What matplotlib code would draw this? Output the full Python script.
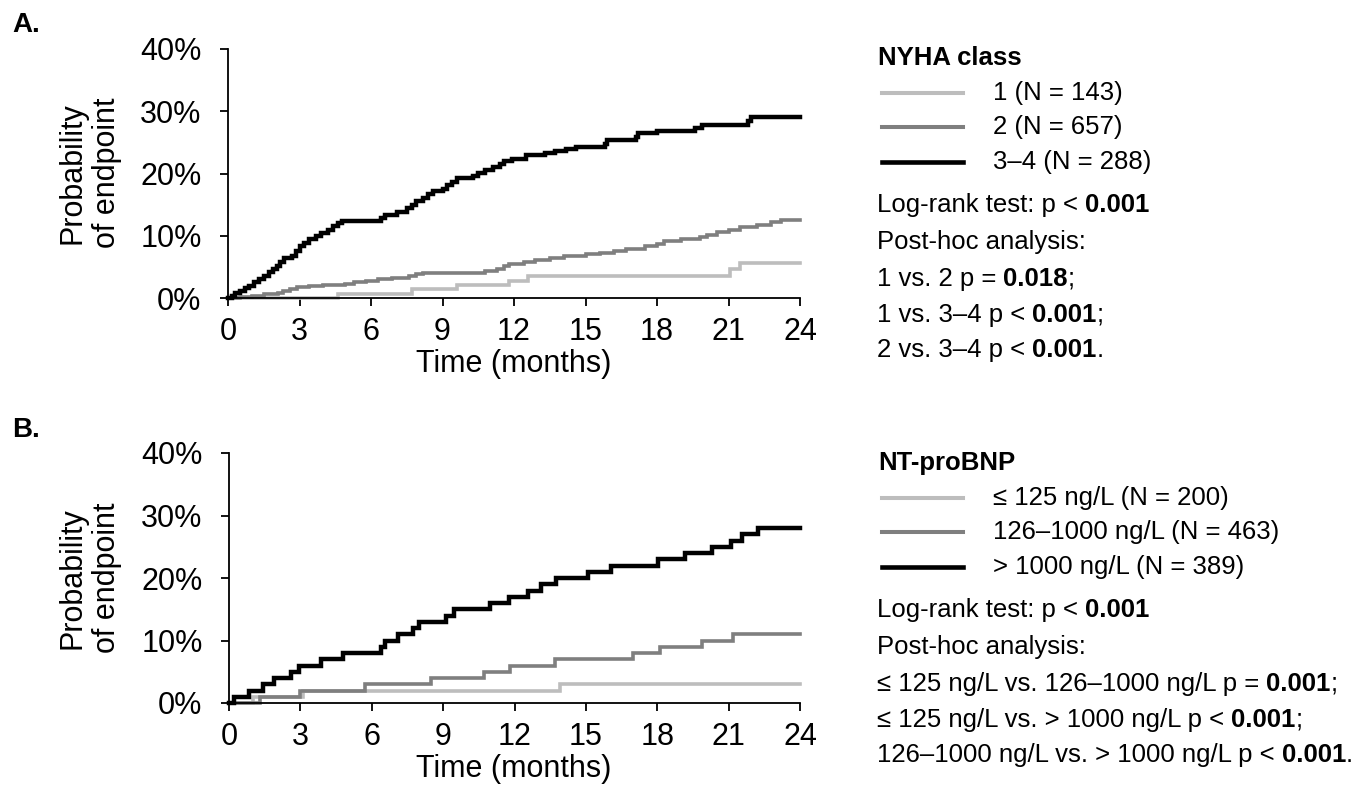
import matplotlib
matplotlib.use("Agg")
import matplotlib.pyplot as plt
from matplotlib.lines import Line2D

plt.rcParams['font.family'] = ['Liberation Sans', 'DejaVu Sans']

# ---------------- data ----------------
x_ticks = [0, 3, 6, 9, 12, 15, 18, 21, 24]
y_ticks = [0.0, 0.1, 0.2, 0.3, 0.4]
y_tick_labels = ["0%", "10%", "20%", "30%", "40%"]

# Panel A: NYHA class (time in months, cumulative probability in %)
nyha_labels = ["1 (N = 143)", "2 (N = 657)", "3\u20134 (N = 288)"]
nyha1_t = [0, 4.6, 7.7, 9.6, 11.8, 12.6, 21.05, 21.5, 24]
nyha1_p = [0, 0.7, 1.4, 2.1, 2.8, 3.6, 4.6, 5.6, 5.6]
nyha2_t = [0, 0.5, 1.0, 1.5, 2.1, 2.3, 2.6, 2.9, 3.4, 4.0, 4.9, 5.3, 5.8, 6.3, 6.9,
           7.6, 7.9, 8.2, 10.8, 11.3, 11.6, 11.8, 12.4, 12.9, 13.5, 14.1, 15.0, 15.6,
           16.2, 16.7, 17.5, 18.0, 18.3, 19.0, 19.8, 20.1, 20.5, 21.0, 21.5, 22.2,
           22.8, 23.2, 24]
nyha2_p = [0, 0.2, 0.4, 0.6, 0.8, 1.1, 1.4, 1.7, 1.9, 2.1, 2.3, 2.5, 2.8, 3.0, 3.2,
           3.5, 3.8, 4.0, 4.3, 4.7, 5.1, 5.5, 5.8, 6.1, 6.4, 6.7, 7.0, 7.3,
           7.6, 7.9, 8.3, 8.7, 9.1, 9.4, 9.8, 10.2, 10.6, 11.0, 11.4, 11.8,
           12.2, 12.6, 12.6]
nyha34_t = [0, 0.15, 0.3, 0.5, 0.7, 0.9, 1.1, 1.3, 1.5, 1.7, 1.9, 2.05, 2.2, 2.35,
            2.7, 2.85, 3.0, 3.2, 3.4, 3.7, 3.9, 4.2, 4.4, 4.6, 4.8, 6.4, 6.6, 7.1,
            7.5, 7.7, 7.9, 8.2, 8.4, 8.6, 9.0, 9.2, 9.4, 9.6, 10.3, 10.5, 10.8, 11.1,
            11.4, 11.6, 11.9, 12.5, 13.3, 13.7, 14.2, 14.6, 15.8, 15.9, 17.1, 17.2,
            18.0, 19.6, 19.9, 21.8, 21.95, 24]
nyha34_p = [0, 0.4, 0.8, 1.2, 1.6, 2.0, 2.5, 3.0, 3.5, 4.1, 4.6, 5.1, 5.8, 6.4,
            6.8, 7.6, 8.3, 8.9, 9.5, 9.9, 10.5, 11.0, 11.5, 12.0, 12.3, 12.8, 13.4, 13.8,
            14.4, 15.0, 15.6, 16.1, 16.7, 17.2, 17.5, 18.1, 18.6, 19.3, 19.6, 20.1, 20.6, 21.0,
            21.5, 22.0, 22.4, 23.0, 23.3, 23.6, 24.0, 24.3, 24.8, 25.4, 25.9, 26.5,
            26.9, 27.3, 27.8, 28.4, 29.0, 29.0]

# Panel B: NT-proBNP
bnp_labels = ["\u2264 125 ng/L (N = 200)", "126\u20131000 ng/L (N = 463)", "> 1000 ng/L (N = 389)"]
bnp_low_t = [0, 1.0, 3.1, 13.9, 24]
bnp_low_p = [0, 1, 2, 3, 3]
bnp_mid_t = [0, 1.3, 3.0, 5.7, 8.5, 10.7, 11.8, 13.7, 17.0, 18.1, 19.9, 21.2, 24]
bnp_mid_p = [0, 1, 2, 3, 4, 5, 6, 7, 8, 9, 10, 11, 11]
bnp_high_t = [0, 0.2, 0.85, 1.45, 1.9, 2.6, 2.95, 3.85, 4.8, 6.4, 6.55, 7.1, 7.75, 8.0,
              9.1, 9.45, 10.95, 11.75, 12.55, 13.1, 13.75, 15.1, 16.05, 18.05, 19.15,
              20.3, 21.1, 21.55, 22.25, 24]
bnp_high_p = [0, 1, 2, 3, 4, 5, 6, 7, 8, 9, 10, 11, 12, 13,
              14, 15, 16, 17, 18, 19, 20, 21, 22, 23, 24,
              25, 26, 27, 28, 28]

colors = ["#BDBDBD", "#7F7F7F", "#000000"]
widths = [2.6, 2.6, 3.2]

# ---------------- layout helpers ----------------
W, H = 1372, 790
fig = plt.figure(figsize=(W / 100, H / 100), dpi=100)


def rect(l, t, r, b):
    return [l / W, 1 - b / H, (r - l) / W, (b - t) / H]


def fx(x):
    return x / W


def fy(y):
    return 1 - y / H


def style_axes(ax):
    ax.set_xlim(0, 24)
    ax.set_ylim(0, 0.4)
    ax.set_xticks(x_ticks)
    ax.set_xticklabels([str(v) for v in x_ticks])
    ax.set_yticks(y_ticks)
    ax.set_yticklabels(y_tick_labels)
    for s in ["top", "right"]:
        ax.spines[s].set_visible(False)
    for s in ["left", "bottom"]:
        ax.spines[s].set_linewidth(1.3)
    ax.tick_params(axis="both", direction="out", length=6, width=1.3, labelsize=22)
    ax.tick_params(axis="y", pad=13)
    ax.tick_params(axis="x", pad=8)
    ax.patch.set_alpha(0)


def draw_panel(ax, series):
    for (t, p), c, lw in zip(series, colors, widths):
        ax.step(t, [v / 100 for v in p], where="post", color=c, lw=lw,
                solid_joinstyle="miter", clip_on=False)


axA = fig.add_axes(rect(228, 49, 800, 298))
style_axes(axA)
draw_panel(axA, [(nyha1_t, nyha1_p), (nyha2_t, nyha2_p), (nyha34_t, nyha34_p)])

axB = fig.add_axes(rect(229, 453, 800, 703))
style_axes(axB)
draw_panel(axB, [(bnp_low_t, bnp_low_p), (bnp_mid_t, bnp_mid_p), (bnp_high_t, bnp_high_p)])

renderer = fig.canvas.get_renderer()
FS = 18.5


def rich(x, y_center, parts, size=FS):
    y = y_center + 9
    cur = x
    for s, bold in parts:
        t = fig.text(fx(cur), fy(y), s, fontsize=size,
                     fontweight="bold" if bold else "normal", va="baseline", ha="left")
        bb = t.get_window_extent(renderer)
        cur += bb.width


def panel_text(dy, letter, title, labels, lines, ycenter_axes):
    # panel letter
    fig.text(fx(12), fy(25 + dy), letter, fontsize=20, fontweight="bold", ha="left", va="center")
    # y label
    fig.text(fx(90), fy(ycenter_axes), "Probability\nof endpoint", fontsize=22, rotation=90,
             ha="center", va="center", multialignment="center", linespacing=1.2)
    # x label
    fig.text(fx(514), fy(364 + dy), "Time (months)", fontsize=22, ha="center", va="center")
    # legend title
    fig.text(fx(878), fy(58 + dy), title, fontsize=FS, fontweight="bold", ha="left", va="center")
    for i, (lab, c) in enumerate(zip(labels, colors)):
        yy = [93 + dy, 127 + dy, 162 + dy][i]
        fig.add_artist(Line2D([fx(882), fx(963)], [fy(yy), fy(yy)], color=c,
                              lw=2.9 if i < 2 else 3.3, transform=fig.transFigure))
        fig.text(fx(993), fy(yy), lab, fontsize=FS, ha="left", va="center")
    for yy, parts in zip([203, 240, 277, 313, 348], lines):
        rich(877, yy + dy, parts)


panel_text(0, "A.", "NYHA class", nyha_labels, [
    [("Log-rank test: p < ", False), ("0.001", True)],
    [("Post-hoc analysis:", False)],
    [("1 vs. 2 p = ", False), ("0.018", True), (";", False)],
    [("1 vs. 3\u20134 p < ", False), ("0.001", True), (";", False)],
    [("2 vs. 3\u20134 p < ", False), ("0.001", True), (".", False)],
], 173)

panel_text(405, "B.", "NT-proBNP", bnp_labels, [
    [("Log-rank test: p < ", False), ("0.001", True)],
    [("Post-hoc analysis:", False)],
    [("\u2264 125 ng/L vs. 126\u20131000 ng/L p = ", False), ("0.001", True), (";", False)],
    [("\u2264 125 ng/L vs. > 1000 ng/L p < ", False), ("0.001", True), (";", False)],
    [("126\u20131000 ng/L vs. > 1000 ng/L p < ", False), ("0.001", True), (".", False)],
], 578)

fig.savefig("out.png", dpi=100, facecolor="white")
